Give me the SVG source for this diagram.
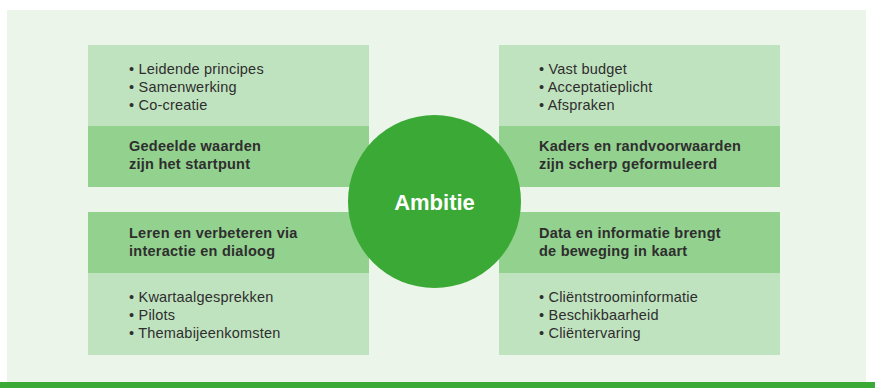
<svg xmlns="http://www.w3.org/2000/svg" width="875" height="388" viewBox="0 0 875 388">
  <style>
    .bg { fill: #ebf5e9; }
    .light { fill: #c0e3bf; }
    .dark { fill: #93d18e; }
    .item { font-family: "Liberation Sans", Arial, sans-serif; font-size: 14.5px; letter-spacing: 0.2px; fill: #2e2e2e; }
    .head { font-family: "Liberation Sans", Arial, sans-serif; font-size: 14.5px; letter-spacing: 0.25px; font-weight: bold; fill: #2e2e2e; }
    .hub { fill: #3aa935; }
    .hub-label { font-family: "Liberation Sans", Arial, sans-serif; font-size: 22px; font-weight: bold; fill: #ffffff; }
  </style>

  <!-- panel background and bottom rule -->
  <rect class="bg" x="7" y="10" width="859" height="373"/>
  <rect class="hub" x="0" y="382" width="875" height="6"/>

  <!-- top left -->
  <g id="gedeelde-waarden">
    <rect class="light" x="88" y="45" width="281" height="81"/>
    <rect class="dark" x="88" y="126" width="281" height="61"/>
    <text class="item" x="129" y="74">• Leidende principes</text>
    <text class="item" x="129" y="92">• Samenwerking</text>
    <text class="item" x="129" y="110">• Co-creatie</text>
    <text class="head" x="129" y="151">Gedeelde waarden</text>
    <text class="head" x="129" y="169">zijn het startpunt</text>
  </g>

  <!-- top right -->
  <g id="kaders">
    <rect class="light" x="499" y="45" width="281" height="81"/>
    <rect class="dark" x="499" y="126" width="281" height="61"/>
    <text class="item" x="539" y="74">• Vast budget</text>
    <text class="item" x="539" y="92">• Acceptatieplicht</text>
    <text class="item" x="539" y="110">• Afspraken</text>
    <text class="head" x="539" y="151">Kaders en randvoorwaarden</text>
    <text class="head" x="539" y="169">zijn scherp geformuleerd</text>
  </g>

  <!-- bottom left -->
  <g id="leren-verbeteren">
    <rect class="dark" x="88" y="212" width="281" height="61"/>
    <rect class="light" x="88" y="273" width="281" height="82"/>
    <text class="head" x="129" y="238">Leren en verbeteren via</text>
    <text class="head" x="129" y="256">interactie en dialoog</text>
    <text class="item" x="129" y="302">• Kwartaalgesprekken</text>
    <text class="item" x="129" y="320">• Pilots</text>
    <text class="item" x="129" y="338">• Themabijeenkomsten</text>
  </g>

  <!-- bottom right -->
  <g id="data-informatie">
    <rect class="dark" x="499" y="212" width="281" height="61"/>
    <rect class="light" x="499" y="273" width="281" height="82"/>
    <text class="head" x="539" y="238">Data en informatie brengt</text>
    <text class="head" x="539" y="256">de beweging in kaart</text>
    <text class="item" x="539" y="302">• Cliëntstroominformatie</text>
    <text class="item" x="539" y="320">• Beschikbaarheid</text>
    <text class="item" x="539" y="338">• Cliëntervaring</text>
  </g>

  <!-- centre -->
  <g id="ambitie">
    <circle class="hub" cx="434.5" cy="201.5" r="86.5"/>
    <text class="hub-label" x="434.5" y="209.5" text-anchor="middle">Ambitie</text>
  </g>

  <g id="connectors"/>
</svg>
